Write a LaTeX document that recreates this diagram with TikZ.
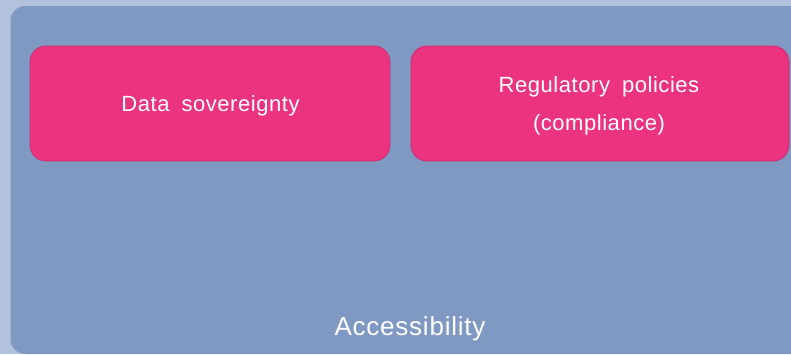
\documentclass[tikz,border=0pt]{standalone}
\usepackage{fontspec}
\setmainfont{Liberation Sans}
\newfontfamily\boxfont[LetterSpace=2.5,WordSpace=1.8]{Liberation Sans}
\newfontfamily\accfont[LetterSpace=3]{Liberation Sans}
\definecolor{outerbg}{HTML}{B3C2DC}
\definecolor{panel}{HTML}{7F99C3}
\definecolor{pinkfill}{HTML}{EC3380}
\definecolor{pinkedge}{HTML}{C8306F}
\tikzset{
  pinkbox/.style={draw=pinkedge, line width=0.8pt, fill=pinkfill, rounded corners=16pt},
  boxtext/.style={text=white, font=\boxfont\fontsize{22}{38}\selectfont, align=center, inner sep=0pt},
}
\begin{document}
\begin{tikzpicture}[x=1pt,y=-1pt]
\useasboundingbox (0,0) rectangle (791,354);
\fill[outerbg] (0,0) rectangle (791,354);
\fill[panel, rounded corners=15pt] (10.5,6) rectangle (830,354);
\draw[pinkbox] (30,46) rectangle (390,161);
\draw[pinkbox] (411,46) rectangle (789,161);
\node[boxtext] (ds) at (210.5,105.5) {Data sovereignty};
\node[boxtext] (rp) at (599,106) {Regulatory policies\\(compliance)};
\node[text=white, font=\accfont\fontsize{26}{30}\selectfont, inner sep=0pt] (acc) at (410,328.5) {Accessibility};
\end{tikzpicture}
\end{document}
